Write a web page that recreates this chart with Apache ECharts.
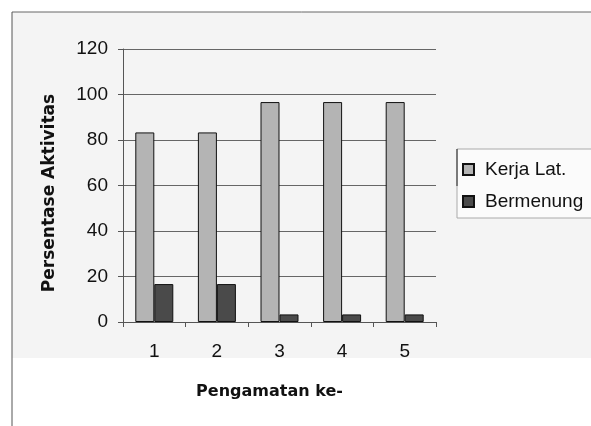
<!DOCTYPE html>
<html>
<head>
<meta charset="utf-8">
<script src="https://cdn.jsdelivr.net/npm/echarts@6/dist/echarts.min.js"></script>
<style>
  html, body { margin: 0; padding: 0; background: #ffffff; }
  #chart { width: 591px; height: 426px; }
</style>
</head>
<body>
<div id="chart"></div>
<script>
// Observation numbers on the x axis
const categories = ['1', '2', '3', '4', '5'];
// Activity percentages per observation
const kerjaLat = [83.33, 83.33, 96.67, 96.67, 96.67];
const bermenung = [16.67, 16.67, 3.33, 3.33, 3.33];
// Y axis range
const yMin = 0, yMax = 120, yStep = 20;

const chart = echarts.init(document.getElementById('chart'), null, { renderer: 'canvas' });

const font = 'Liberation Sans, Arial, sans-serif';
const titleFont = 'DejaVu Sans, Verdana, sans-serif';

chart.setOption({
  animation: false,
  backgroundColor: '#ffffff',
  graphic: [
    // tinted chart area
    { type: 'rect', z: -10, shape: { x: 12, y: 12, width: 579, height: 346 }, style: { fill: '#f4f4f4' } },
    // frame lines
    { type: 'line', z: 10, shape: { x1: 12, y1: 12, x2: 591, y2: 12 }, style: { stroke: '#666', lineWidth: 1 } },
    { type: 'line', z: 10, shape: { x1: 12, y1: 12, x2: 12, y2: 426 }, style: { stroke: '#555', lineWidth: 1 } },
    // legend box
    { type: 'rect', z: 5, shape: { x: 457, y: 149, width: 140, height: 69 }, style: { fill: '#fbfbfb', stroke: '#aaa', lineWidth: 1 } },
    { type: 'line', z: 6, shape: { x1: 457, y1: 149, x2: 457, y2: 186 }, style: { stroke: '#222', lineWidth: 1 } }
  ],
  grid: { left: 123, right: 155, top: 49, bottom: 104, containLabel: false },
  legend: {
    orient: 'vertical',
    left: 457,
    top: 155,
    itemWidth: 11,
    itemHeight: 11,
    itemGap: 13,
    icon: 'rect',
    z: 7,
    textStyle: { fontFamily: font, fontSize: 19, color: '#111', padding: [0, 0, 0, 6] },
    data: ['Kerja Lat.', 'Bermenung']
  },
  xAxis: {
    type: 'category',
    data: categories,
    name: 'Pengamatan ke-',
    nameLocation: 'middle',
    nameGap: 62,
    nameTextStyle: { fontFamily: titleFont, fontSize: 16, fontWeight: 'bold', color: '#111', padding: [0, 20, 0, 0] },
    axisLine: { lineStyle: { color: '#555', width: 1 } },
    axisTick: { show: true, alignWithLabel: false, length: 5, lineStyle: { color: '#555' } },
    axisLabel: { fontFamily: font, fontSize: 19, color: '#111', margin: 20 },
    splitLine: { show: false }
  },
  yAxis: {
    type: 'value',
    min: yMin,
    max: yMax,
    interval: yStep,
    name: 'Persentase Aktivitas',
    nameLocation: 'middle',
    nameGap: 65,
    nameTextStyle: { fontFamily: titleFont, fontSize: 17, fontWeight: 'bold', color: '#111', padding: [0, 15, 0, 0] },
    axisLine: { show: true, lineStyle: { color: '#555', width: 1 } },
    axisTick: { show: true, length: 5, inside: false, lineStyle: { color: '#555' } },
    axisLabel: { fontFamily: font, fontSize: 19, color: '#111', margin: 15 },
    splitLine: { show: true, lineStyle: { color: '#666', width: 1 } }
  },
  series: [
    {
      name: 'Kerja Lat.',
      type: 'bar',
      data: kerjaLat,
      barWidth: 19,
      barGap: '0%',
      itemStyle: { color: '#b4b4b4', borderColor: '#111', borderWidth: 1 }
    },
    {
      name: 'Bermenung',
      type: 'bar',
      data: bermenung,
      barWidth: 19,
      barGap: '0%',
      itemStyle: { color: '#4a4a4a', borderColor: '#111', borderWidth: 1 }
    }
  ]
});
</script>
</body>
</html>
